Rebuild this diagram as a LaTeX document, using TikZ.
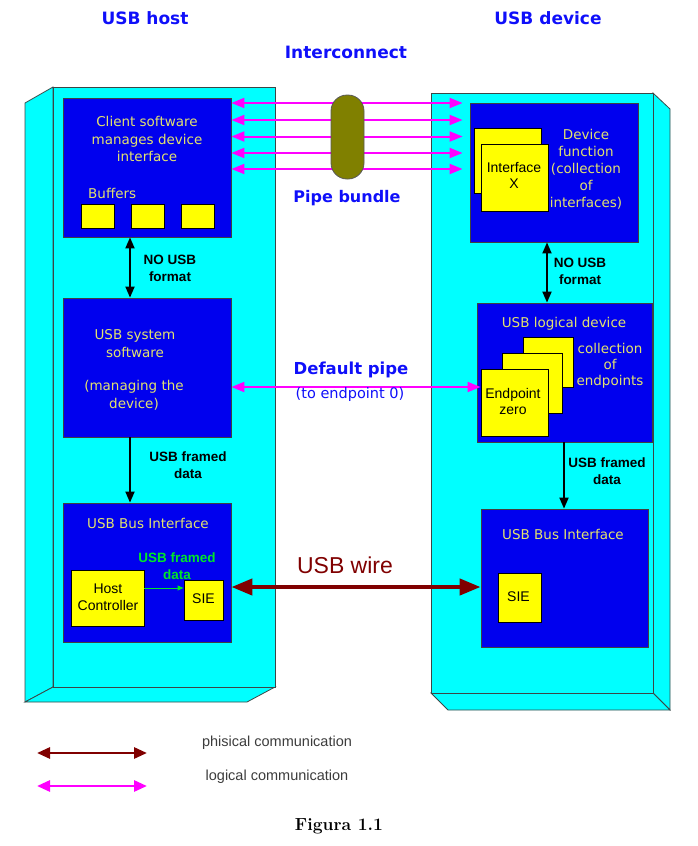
\documentclass[tikz,border=0pt]{standalone}
\usepackage{fontspec}
\usetikzlibrary{arrows.meta,calc}
\newfontfamily\cf{DejaVu Sans}
\newfontfamily\af{Liberation Sans}
\definecolor{cy}{RGB}{0,255,255}
\definecolor{bl}{RGB}{0,0,238}
\definecolor{yl}{RGB}{255,255,0}
\definecolor{tx}{RGB}{226,226,110}
\definecolor{mg}{RGB}{255,0,255}
\definecolor{dr}{RGB}{128,0,0}
\definecolor{ol}{RGB}{128,128,0}
\definecolor{ttl}{RGB}{15,15,250}
\definecolor{edge}{RGB}{60,70,70}
\definecolor{gr}{RGB}{0,230,40}
\definecolor{lgtx}{RGB}{60,60,60}
\tikzset{
  face/.style={fill=cy, draw=edge, line width=0.8},
  bluebox/.style={rectangle, fill=bl, draw=black!75, line width=0.8, inner sep=0},
  ybox/.style={rectangle, fill=yl, draw=black, line width=0.9, inner sep=0},
  ytext/.style={text=tx, font=\cf\fontsize{13.5}{17.5}\selectfont, align=center, inner sep=0},
  ktext/.style={text=black, font=\af\fontsize{14}{16.5}\selectfont, align=center, inner sep=0},
  btext/.style={text=black, font=\af\bfseries\fontsize{13.5}{17}\selectfont, align=center, inner sep=0},
  ttext/.style={text=ttl, font=\cf\bfseries\fontsize{17}{20}\selectfont, inner sep=0},
  pipe/.style={draw=mg, line width=2, {Triangle[length=13pt,width=10pt]}-{Triangle[length=13pt,width=10pt]}},
  phys/.style={draw=dr, line width=4.2, {Triangle[length=21pt,width=16pt]}-{Triangle[length=21pt,width=16pt]}},
  karrow/.style={draw=black, line width=1.8, -{Triangle[length=11pt,width=9pt]}},
  kdarrow/.style={draw=black, line width=1.8, {Triangle[length=11pt,width=9pt]}-{Triangle[length=11pt,width=9pt]}},
  lphys/.style={draw=dr, line width=2.8, {Triangle[length=13pt,width=11pt]}-{Triangle[length=13pt,width=11pt]}},
  lpipe/.style={draw=mg, line width=2.8, {Triangle[length=13pt,width=11pt]}-{Triangle[length=13pt,width=11pt]}},
}
\begin{document}
\begin{tikzpicture}[x=1pt,y=-1pt]
\useasboundingbox (0,0) rectangle (697,846);
% left 3D box (host)
\path[face] (25,103) -- (53,87) -- (53,687) -- (25,702) -- cycle;
\path[face] (53,687) -- (275,687) -- (247,702) -- (25,702) -- cycle;
\path[face] (53,87) rectangle (275,687);
% right 3D box (device)
\path[face] (653,93) -- (670,109) -- (670,710) -- (653,693) -- cycle;
\path[face] (431,693) -- (653,693) -- (670,710) -- (448,710) -- cycle;
\path[face] (431,93) rectangle (653,693);

% titles
\node[ttext] (thost) at (145,18) {USB host};
\node[ttext] (tdev) at (548,18) {USB device};
\node[ttext] (tint) at (346,52) {Interconnect};

% host side
\node[bluebox, minimum width=168, minimum height=139] (client) at (147,167.5) {};
\node[ytext] (clienttxt) at (147,139) {Client software\\manages device\\interface};
\node[ytext, anchor=west] (buftxt) at (88,193) {Buffers};
\node[ybox, minimum width=33, minimum height=24] (buf1) at (97.5,216) {};
\node[ybox, minimum width=33, minimum height=24] (buf2) at (147.5,216) {};
\node[ybox, minimum width=33, minimum height=24] (buf3) at (197.5,216) {};

\node[bluebox, minimum width=168, minimum height=139] (sys) at (147,367.5) {};
\node[ytext] (systxt1) at (135,343.5) {USB system\\software};
\node[ytext] (systxt2) at (134,395.5) {(managing the\\device)};

\node[bluebox, minimum width=168, minimum height=139] (busl) at (147,572.5) {};
\node[ytext] (busltxt) at (148,523) {USB Bus Interface};
\node[ybox, minimum width=73, minimum height=56] (hc) at (107.5,598) {};
\node[ktext] (hctxt) at (108,597) {Host\\Controller};
\node[ybox, minimum width=39, minimum height=40] (siel) at (203.5,600) {};
\node[ktext] (sieltxt) at (203.5,599) {SIE};
\node[text=gr, font=\af\bfseries\fontsize{13.5}{17}\selectfont, align=center, inner sep=0] (grtxt) at (177,566) {USB framed\\data};
\draw[draw=gr, line width=1, -{Triangle[length=6pt,width=5pt]}] (hc.east |- 0,588) -- (siel.west |- 0,588);

\draw[kdarrow] ($(client.south)+(-17,0)$) -- ($(sys.north)+(-17,0)$);
\node[btext] (nousbl) at (170,268.5) {NO USB\\format};
\draw[karrow] ($(sys.south)+(-17,0)$) -- ($(busl.north)+(-17,0)$);
\node[btext] (framedl) at (188,465.5) {USB framed\\data};

% device side
\node[bluebox, minimum width=168, minimum height=139] (devf) at (554,172.5) {};
\node[ybox, minimum width=67, minimum height=65] (ifb) at (507.5,160.5) {};
\node[ybox, minimum width=67, minimum height=67] (iff) at (514.5,177.5) {};
\node[ktext] (iftxt) at (514,175.5) {Interface\\X};
\node[ytext, font=\cf\fontsize{13.5}{17}\selectfont] (devftxt) at (586,169) {Device\\function\\(collection\\of\\interfaces)};

\node[bluebox, minimum width=175, minimum height=139] (logd) at (564.5,372.5) {};
\node[ytext] (logdtxt) at (564,324) {USB logical device};
\node[ybox, minimum width=50, minimum height=50] (epb) at (548,362) {};
\node[ybox, minimum width=60, minimum height=60] (epm) at (532,383) {};
\node[ybox, minimum width=67, minimum height=67] (ep0) at (514.5,402.5) {};
\node[ktext] (ep0txt) at (513,401.5) {Endpoint\\zero};
\node[ytext, font=\cf\fontsize{13.5}{16}\selectfont] (coltxt) at (610,366) {collection\\of\\endpoints};

\node[bluebox, minimum width=167, minimum height=138] (busr) at (564.5,578) {};
\node[ytext] (busrtxt) at (563,534) {USB Bus Interface};
\node[ybox, minimum width=43, minimum height=49] (sier) at (519.5,597.5) {};
\node[ktext] (siertxt) at (518.5,597) {SIE};

\draw[kdarrow] (devf.south -| 547,0) -- (logd.north -| 547,0);
\node[btext] (nousbr) at (580,271.5) {NO USB\\format};
\draw[karrow] (logd.south -| 564,0) -- (busr.north -| 564,0);
\node[btext] (framedr) at (607,471.5) {USB framed\\data};

% pipe bundle
\foreach \yy in {103,120,136.5,153,169}{
  \draw[pipe, shorten >=7pt] (client.east |- 0,\yy) -- (devf.west |- 0,\yy);
}
\node[draw=black!65, line width=0.8, fill=ol, rounded corners=16pt, minimum width=33, minimum height=84, inner sep=0] (bundle) at (347.5,137) {};
\node[text=ttl, font=\cf\bfseries\fontsize{16}{19}\selectfont, inner sep=0] (bundletxt) at (347,198) {Pipe bundle};

% default pipe
\draw[pipe] (sys.east |- 0,387) -- (ep0.west |- 0,387);
\node[text=ttl, font=\cf\bfseries\fontsize{16.5}{19}\selectfont, inner sep=0] (deftxt) at (351,370) {Default pipe};
\node[text=ttl, font=\cf\fontsize{14.5}{16}\selectfont, inner sep=0] (deftxt2) at (350,394) {(to endpoint 0)};

% USB wire
\draw[phys] (busl.east |- 0,587) -- (busr.west |- 0,587);
\node[text=dr, font=\af\fontsize{23}{26}\selectfont, inner sep=0] (wiretxt) at (345,565) {USB wire};

% legend
\coordinate (l1a) at (37,753);
\coordinate (l1b) at (147,753);
\coordinate (l2a) at (37,786);
\coordinate (l2b) at (147,786);
\draw[lphys] (l1a) -- (l1b);
\draw[lpipe] (l2a) -- (l2b);
\node[text=lgtx, font=\af\fontsize{14.5}{17}\selectfont, inner sep=0] (lg1) at (277,743) {phisical communication};
\node[text=lgtx, font=\af\fontsize{14.5}{17}\selectfont, inner sep=0] (lg2) at (277,777) {logical communication};
\node[font=\bfseries\fontsize{17.5}{20}\selectfont, inner sep=0] (fig) at (339,826) {Figura 1.1};
\end{tikzpicture}
\end{document}
